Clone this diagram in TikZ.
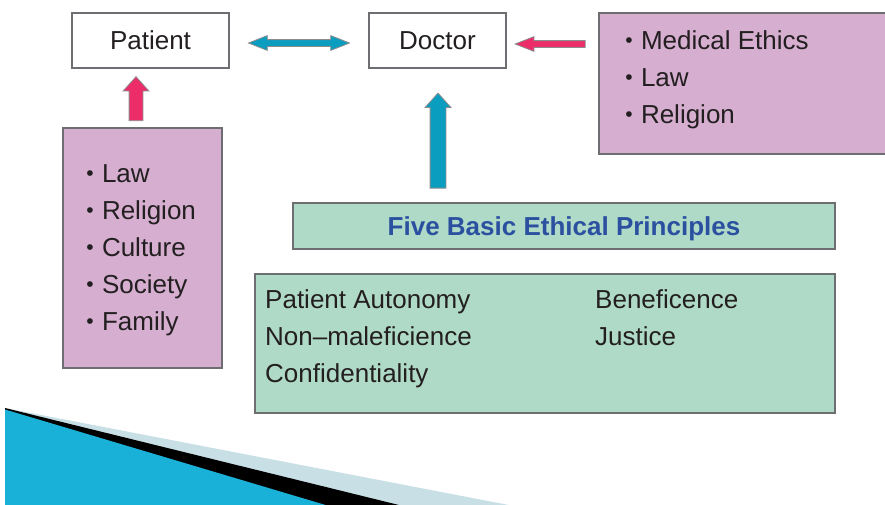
\documentclass[tikz,border=0pt]{standalone}
\usepackage{fontspec}
\setmainfont{Liberation Sans}
\usetikzlibrary{shapes.arrows,calc}
\definecolor{ink}{HTML}{231F20}
\definecolor{ink2}{HTML}{6D6E71}
\definecolor{lilac}{HTML}{D5AED0}
\definecolor{mint}{HTML}{B0DAC8}
\definecolor{sky}{HTML}{0A9DBF}
\definecolor{rose}{HTML}{EC2D6A}
\definecolor{navy}{HTML}{2B50A0}
\definecolor{cyan}{HTML}{19B1D8}
\definecolor{mist}{HTML}{C8DFE5}
\definecolor{arrline}{HTML}{8C8C8C}
\newcommand\itm{\makebox[16.3pt][l]{\hspace{0.6pt}\fontsize{21}{21}\selectfont\raisebox{1.8pt}{•}}}
\tikzset{
  box/.style={draw=ink2, line width=2pt, text=ink, inner sep=0pt,
    font=\fontsize{26}{37}\selectfont},
  wbox/.style={box, fill=white},
  lbox/.style={box, fill=lilac},
  mbox/.style={box, fill=mint},
  items/.style={text=ink, font=\fontsize{26}{37}\selectfont, align=left,
    inner sep=0pt, anchor=north west},
  blk/.style={draw=arrline, line width=0.8pt, inner sep=0pt},
  fatarr/.style={blk, single arrow, rotate=90, single arrow tip angle=84},
  bluearr/.style={fatarr, fill=sky, inner ysep=7.5pt, single arrow head extend=5pt},
  redarr/.style={fatarr, fill=rose, inner ysep=6.5pt, single arrow head extend=6pt},
  dblarr/.style={blk, double arrow, fill=sky, inner ysep=3pt,
    double arrow head extend=4pt, double arrow tip angle=43},
  leftarr/.style={blk, single arrow, rotate=180, fill=rose, inner ysep=3pt,
    single arrow head extend=4pt, single arrow tip angle=43},
}
\begin{document}
\begin{tikzpicture}[x=1pt, y=-1pt]
  \useasboundingbox (0,0) rectangle (885,504);
  \clip (0,0) rectangle (885,504);
  % ---------------- corner decoration ----------------
  \fill[mist] (5,408) -- (514,506) -- (5,506) -- cycle;
  \fill[black] (5,408) -- (403,506) -- (5,506) -- cycle;
  \fill[cyan] (5,409.5) -- (329,506) -- (5,506) -- cycle;

  % ---------------- top row ----------------
  \node[wbox, minimum width=157, minimum height=55] (pat) at (150.5,40.5) {Patient};
  \node[wbox, minimum width=137, minimum height=55] (doc) at (437.5,40.5) {Doctor};
  \node[lbox, minimum width=291, minimum height=141] (eth) at (744.5,83.5) {};
  \node[items] (ethlist) at (624.5,30.7) {\itm Medical Ethics\\ \itm Law\\ \itm Religion};

  % ---------------- influences on the patient ----------------
  \node[lbox, minimum width=159, minimum height=240] (soc) at (142.5,248) {};
  \node[items] (soclist) at (85.5,164.4) {\itm Law\\ \itm Religion\\ \itm Culture\\ \itm Society\\ \itm Family};

  % ---------------- principles ----------------
  \node[mbox, minimum width=542, minimum height=46, text=navy, text depth=0pt,
    font=\fontsize{26}{37}\selectfont\bfseries] (five) at (564,226) {Five Basic Ethical Principles};
  \node[mbox, minimum width=580, minimum height=139] (prin) at (545,343.5) {};
  \node[items] (prinl) at (265,289.7) {Patient Autonomy\\ Non--maleficience\\ Confidentiality};
  \node[items] (prinr) at (595,289.7) {Beneficence\\ Justice};

  % ---------------- block arrows ----------------
  \path ($(pat.east)+(0,2.5)$) -- node[dblarr, minimum height=101] (pdarr) {} ($(doc.west)+(0,2.5)$);
  \path ($(eth.west |- doc.east)+(2,3.5)$) -- node[leftarr, minimum height=70] (edarr) {} ($(doc.east)+(2,3.5)$);
  \path ($(doc.south |- five.north)+(0.5,9.5)$) -- node[bluearr, minimum height=95] (fdarr) {} ($(doc.south)+(0.5,9.5)$);
  \path ($(soc.north)+(-6.5,4.5)$) -- node[redarr, minimum height=44] (sparr) {} ($(soc.north |- pat.south)+(-6.5,4.5)$);
\end{tikzpicture}
\end{document}
